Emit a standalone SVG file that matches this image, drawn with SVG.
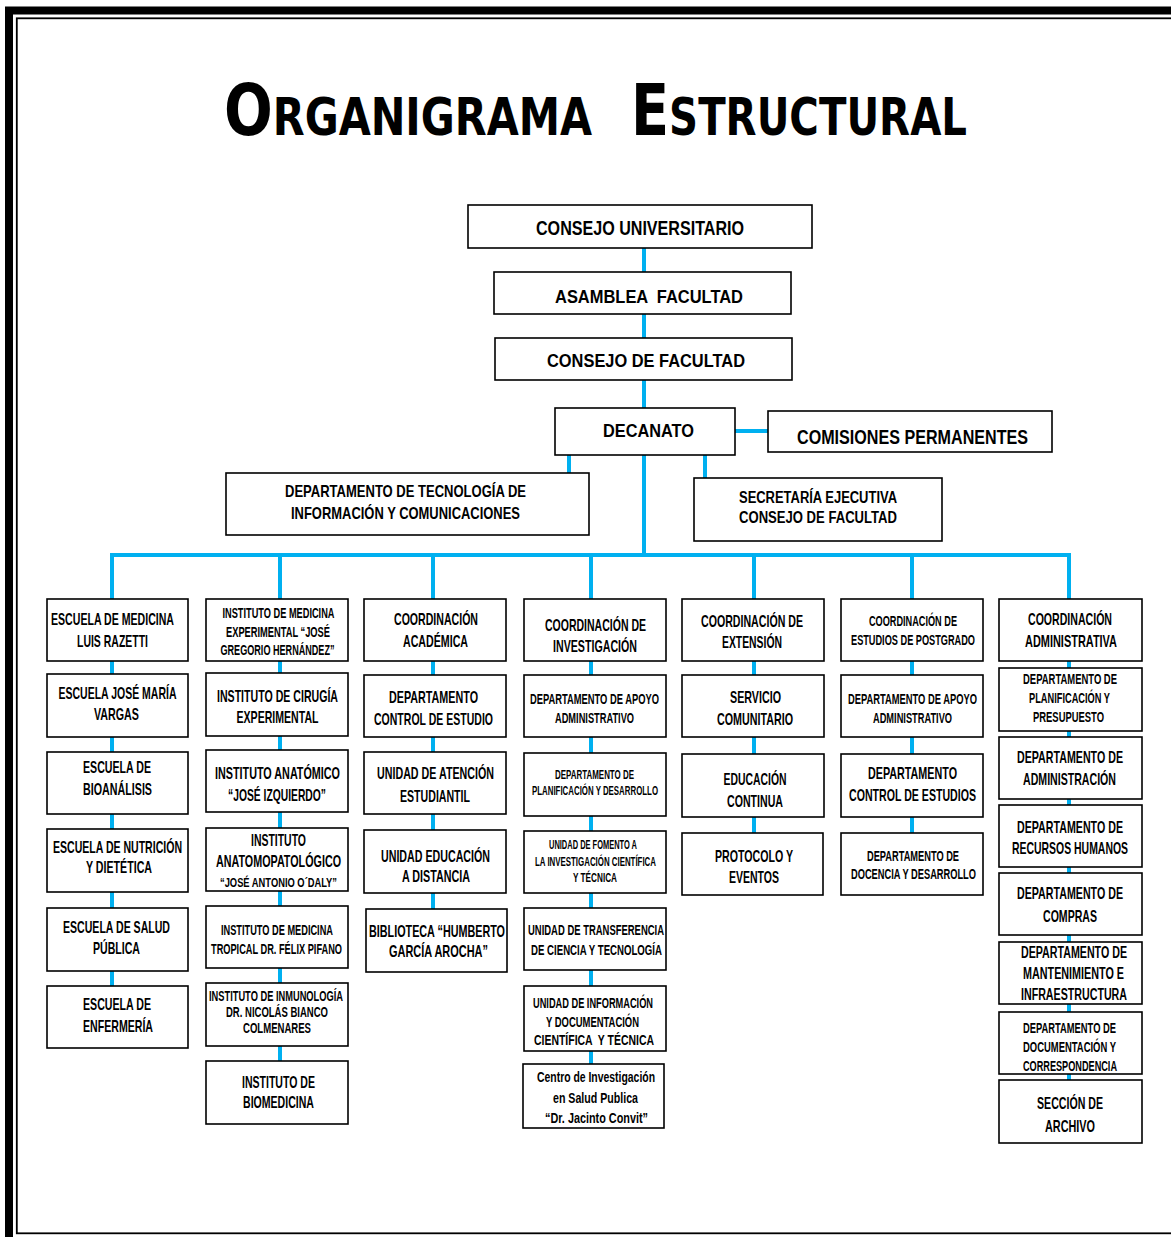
<svg xmlns="http://www.w3.org/2000/svg" width="1171" height="1237" viewBox="0 0 1171 1237">
<style>
.bx{fill:#fff;stroke:#000;stroke-width:1.6}
.t{font-family:"Liberation Sans Narrow","Liberation Sans",Arial,sans-serif;font-weight:bold;fill:#000;text-anchor:middle}
.ttl{font-family:"DejaVu Sans","Liberation Sans",sans-serif;font-weight:bold;fill:#000}
.s20{font-size:20px}.s19{font-size:19px}.s18{font-size:18px}.s17{font-size:17px}.s16{font-size:16px}.s15{font-size:15px}.s14{font-size:14px}.s13{font-size:13px}.s12{font-size:12px}
.c{fill:none;stroke:#00B0F0;stroke-width:4;stroke-linecap:butt}
</style>
<rect width="1171" height="1237" fill="#fff"/>
<g id="frame" fill="none" stroke="#000">
<rect x="9" y="10.5" width="1200" height="1232" stroke-width="8"/>
<rect x="16.8" y="18.3" width="1190" height="1215" stroke-width="1.8"/>
</g>
<g id="title">
<text class="ttl" x="224" y="135" textLength="368" lengthAdjust="spacingAndGlyphs"><tspan font-size="72">O</tspan><tspan font-size="52">RGANIGRAMA</tspan></text>
<text class="ttl" x="631" y="135" textLength="336" lengthAdjust="spacingAndGlyphs"><tspan font-size="72">E</tspan><tspan font-size="52">STRUCTURAL</tspan></text>
</g>
<g id="connectors">
<path class="c" d="M644,248 V555"/>
<path class="c" d="M569,455 V473"/>
<path class="c" d="M705,455 V478"/>
<path class="c" d="M735,431 H768" stroke-width="6"/>
<path class="c" d="M112,1000 V555 H1069 V1100" stroke-width="4.5"/>
<path class="c" d="M280,555 V1061"/>
<path class="c" d="M433,555 V909"/>
<path class="c" d="M591,555 V1064"/>
<path class="c" d="M754,555 V833"/>
<path class="c" d="M912,555 V833"/>
</g>
<g id="n-consejo-universitario"><rect class="bx" x="468" y="205" width="344" height="43"/><text class="t s20" x="640" y="235" textLength="208" lengthAdjust="spacingAndGlyphs">CONSEJO UNIVERSITARIO</text></g>
<g id="n-asamblea"><rect class="bx" x="494" y="272" width="297" height="42"/><text class="t s19" x="649" y="303" textLength="188" lengthAdjust="spacingAndGlyphs" xml:space="preserve">ASAMBLEA  FACULTAD</text></g>
<g id="n-consejo-facultad"><rect class="bx" x="495" y="338" width="297" height="42"/><text class="t s19" x="646" y="367" textLength="198" lengthAdjust="spacingAndGlyphs">CONSEJO DE FACULTAD</text></g>
<g id="n-decanato"><rect class="bx" x="555" y="408" width="180" height="47"/><text class="t s19" x="648.5" y="437" textLength="91" lengthAdjust="spacingAndGlyphs">DECANATO</text></g>
<g id="n-comisiones"><rect class="bx" x="768" y="411" width="284" height="41"/><text class="t s20" x="912.5" y="444" textLength="231" lengthAdjust="spacingAndGlyphs">COMISIONES PERMANENTES</text></g>
<g id="n-dti"><rect class="bx" x="226" y="473" width="363" height="62"/><text class="t s17" x="405.5" y="497" textLength="241" lengthAdjust="spacingAndGlyphs">DEPARTAMENTO DE TECNOLOGÍA DE</text><text class="t s17" x="405.5" y="519" textLength="229" lengthAdjust="spacingAndGlyphs">INFORMACIÓN Y COMUNICACIONES</text></g>
<g id="n-secretaria"><rect class="bx" x="694" y="478" width="248" height="63"/><text class="t s16" x="818" y="503" textLength="158" lengthAdjust="spacingAndGlyphs">SECRETARÍA EJECUTIVA</text><text class="t s16" x="818" y="523" textLength="158" lengthAdjust="spacingAndGlyphs">CONSEJO DE FACULTAD</text></g>

<g id="c1-medicina"><rect class="bx" x="47" y="599" width="141" height="62"/><text class="t s17" x="112.5" y="625" textLength="123" lengthAdjust="spacingAndGlyphs">ESCUELA DE MEDICINA</text><text class="t s17" x="112.5" y="647" textLength="71" lengthAdjust="spacingAndGlyphs">LUIS RAZETTI</text></g>
<g id="c1-vargas"><rect class="bx" x="47" y="674" width="141" height="63"/><text class="t s17" x="117.5" y="699" textLength="118" lengthAdjust="spacingAndGlyphs">ESCUELA JOSÉ MARÍA</text><text class="t s17" x="116.5" y="720" textLength="45" lengthAdjust="spacingAndGlyphs">VARGAS</text></g>
<g id="c1-bioanalisis"><rect class="bx" x="47" y="752" width="141" height="62"/><text class="t s17" x="117" y="773" textLength="68" lengthAdjust="spacingAndGlyphs">ESCUELA DE</text><text class="t s17" x="117.5" y="795" textLength="69" lengthAdjust="spacingAndGlyphs">BIOANÁLISIS</text></g>
<g id="c1-nutricion"><rect class="bx" x="47" y="829" width="141" height="63"/><text class="t s17" x="117.5" y="853" textLength="129" lengthAdjust="spacingAndGlyphs">ESCUELA DE NUTRICIÓN</text><text class="t s17" x="119" y="873" textLength="66" lengthAdjust="spacingAndGlyphs">Y DIETÉTICA</text></g>
<g id="c1-salud"><rect class="bx" x="47" y="908" width="141" height="63"/><text class="t s17" x="116.5" y="933" textLength="107" lengthAdjust="spacingAndGlyphs">ESCUELA DE SALUD</text><text class="t s17" x="116.5" y="954" textLength="47" lengthAdjust="spacingAndGlyphs">PÚBLICA</text></g>
<g id="c1-enfermeria"><rect class="bx" x="47" y="986" width="141" height="62"/><text class="t s17" x="117" y="1010" textLength="68" lengthAdjust="spacingAndGlyphs">ESCUELA DE</text><text class="t s17" x="118" y="1032" textLength="70" lengthAdjust="spacingAndGlyphs">ENFERMERÍA</text></g>

<g id="c2-experimental"><rect class="bx" x="206" y="599" width="142" height="62"/><text class="t s15" x="278.5" y="618" textLength="112" lengthAdjust="spacingAndGlyphs">INSTITUTO DE MEDICINA</text><text class="t s15" x="278" y="637" textLength="104" lengthAdjust="spacingAndGlyphs">EXPERIMENTAL “JOSÉ</text><text class="t s15" x="277.5" y="655" textLength="114" lengthAdjust="spacingAndGlyphs">GREGORIO HERNÁNDEZ”</text></g>
<g id="c2-cirugia"><rect class="bx" x="206" y="673" width="142" height="63"/><text class="t s17" x="277.5" y="702" textLength="121" lengthAdjust="spacingAndGlyphs">INSTITUTO DE CIRUGÍA</text><text class="t s17" x="277.5" y="723" textLength="82" lengthAdjust="spacingAndGlyphs">EXPERIMENTAL</text></g>
<g id="c2-anatomico"><rect class="bx" x="206" y="750" width="142" height="62"/><text class="t s17" x="277.5" y="779" textLength="125" lengthAdjust="spacingAndGlyphs">INSTITUTO ANATÓMICO</text><text class="t s17" x="277" y="801" textLength="98" lengthAdjust="spacingAndGlyphs">“JOSÉ IZQUIERDO”</text></g>
<g id="c2-anatomopatologico"><rect class="bx" x="206" y="828" width="142" height="63"/><text class="t s17" x="278.5" y="846" textLength="55" lengthAdjust="spacingAndGlyphs">INSTITUTO</text><text class="t s17" x="278.5" y="867" textLength="125" lengthAdjust="spacingAndGlyphs">ANATOMOPATOLÓGICO</text><text class="t s13" x="278.5" y="887" textLength="117" lengthAdjust="spacingAndGlyphs">“JOSÉ ANTONIO O´DALY”</text></g>
<g id="c2-tropical"><rect class="bx" x="206" y="906" width="142" height="62"/><text class="t s15" x="277" y="935" textLength="112" lengthAdjust="spacingAndGlyphs">INSTITUTO DE MEDICINA</text><text class="t s15" x="276.5" y="954" textLength="131" lengthAdjust="spacingAndGlyphs">TROPICAL DR. FÉLIX PIFANO</text></g>
<g id="c2-inmunologia"><rect class="bx" x="206" y="983" width="142" height="63"/><text class="t s14" x="276" y="1001" textLength="134" lengthAdjust="spacingAndGlyphs">INSTITUTO DE INMUNOLOGÍA</text><text class="t s14" x="277" y="1017" textLength="102" lengthAdjust="spacingAndGlyphs">DR. NICOLÁS BIANCO</text><text class="t s14" x="277" y="1033" textLength="68" lengthAdjust="spacingAndGlyphs">COLMENARES</text></g>
<g id="c2-biomedicina"><rect class="bx" x="206" y="1061" width="142" height="63"/><text class="t s17" x="278.5" y="1088" textLength="73" lengthAdjust="spacingAndGlyphs">INSTITUTO DE</text><text class="t s17" x="278.5" y="1108" textLength="71" lengthAdjust="spacingAndGlyphs">BIOMEDICINA</text></g>

<g id="c3-academica"><rect class="bx" x="364" y="599" width="142" height="62"/><text class="t s17" x="436" y="625" textLength="84" lengthAdjust="spacingAndGlyphs">COORDINACIÓN</text><text class="t s17" x="435.5" y="647" textLength="65" lengthAdjust="spacingAndGlyphs">ACADÉMICA</text></g>
<g id="c3-control"><rect class="bx" x="364" y="675" width="142" height="62"/><text class="t s17" x="433.5" y="703" textLength="89" lengthAdjust="spacingAndGlyphs">DEPARTAMENTO</text><text class="t s17" x="433.5" y="725" textLength="119" lengthAdjust="spacingAndGlyphs">CONTROL DE ESTUDIO</text></g>
<g id="c3-atencion"><rect class="bx" x="364" y="752" width="142" height="62"/><text class="t s17" x="435.5" y="779" textLength="117" lengthAdjust="spacingAndGlyphs">UNIDAD DE ATENCIÓN</text><text class="t s17" x="435" y="802" textLength="70" lengthAdjust="spacingAndGlyphs">ESTUDIANTIL</text></g>
<g id="c3-distancia"><rect class="bx" x="364" y="830" width="142" height="63"/><text class="t s17" x="435.5" y="862" textLength="109" lengthAdjust="spacingAndGlyphs">UNIDAD EDUCACIÓN</text><text class="t s17" x="436" y="882" textLength="68" lengthAdjust="spacingAndGlyphs">A DISTANCIA</text></g>
<g id="c3-biblioteca"><rect class="bx" x="366" y="909" width="141" height="63"/><text class="t s17" x="437" y="937" textLength="136" lengthAdjust="spacingAndGlyphs">BIBLIOTECA “HUMBERTO</text><text class="t s17" x="438.5" y="957" textLength="99" lengthAdjust="spacingAndGlyphs">GARCÍA AROCHA”</text></g>

<g id="c4-investigacion"><rect class="bx" x="524" y="599" width="142" height="62"/><text class="t s17" x="595.5" y="631" textLength="101" lengthAdjust="spacingAndGlyphs">COORDINACIÓN DE</text><text class="t s17" x="595" y="652" textLength="84" lengthAdjust="spacingAndGlyphs">INVESTIGACIÓN</text></g>
<g id="c4-apoyo"><rect class="bx" x="524" y="675" width="142" height="62"/><text class="t s14" x="594.5" y="704" textLength="129" lengthAdjust="spacingAndGlyphs">DEPARTAMENTO DE APOYO</text><text class="t s14" x="594.5" y="723" textLength="79" lengthAdjust="spacingAndGlyphs">ADMINISTRATIVO</text></g>
<g id="c4-planificacion"><rect class="bx" x="524" y="753" width="142" height="63"/><text class="t s12" x="594.5" y="779" textLength="79" lengthAdjust="spacingAndGlyphs">DEPARTAMENTO DE</text><text class="t s12" x="595" y="795" textLength="126" lengthAdjust="spacingAndGlyphs">PLANIFICACIÓN Y DESARROLLO</text></g>
<g id="c4-fomento"><rect class="bx" x="524" y="831" width="142" height="62"/><text class="t s12" x="593" y="849" textLength="88" lengthAdjust="spacingAndGlyphs">UNIDAD DE FOMENTO A</text><text class="t s12" x="595.5" y="866" textLength="121" lengthAdjust="spacingAndGlyphs">LA INVESTIGACIÓN CIENTÍFICA</text><text class="t s12" x="595" y="882" textLength="44" lengthAdjust="spacingAndGlyphs">Y TÉCNICA</text></g>
<g id="c4-transferencia"><rect class="bx" x="524" y="908" width="142" height="62"/><text class="t s15" x="596" y="935" textLength="136" lengthAdjust="spacingAndGlyphs">UNIDAD DE TRANSFERENCIA</text><text class="t s15" x="596.5" y="955" textLength="131" lengthAdjust="spacingAndGlyphs">DE CIENCIA Y TECNOLOGÍA</text></g>
<g id="c4-informacion"><rect class="bx" x="524" y="986" width="142" height="65"/><text class="t s14" x="593" y="1008" textLength="120" lengthAdjust="spacingAndGlyphs">UNIDAD DE INFORMACIÓN</text><text class="t s14" x="592.5" y="1027" textLength="93" lengthAdjust="spacingAndGlyphs">Y DOCUMENTACIÓN</text><text class="t s14" x="594" y="1045" textLength="120" lengthAdjust="spacingAndGlyphs" xml:space="preserve">CIENTÍFICA  Y TÉCNICA</text></g>
<g id="c4-centro"><rect class="bx" x="523" y="1064" width="141" height="64"/><text class="t s15" x="596" y="1082" textLength="118" lengthAdjust="spacingAndGlyphs">Centro de Investigación</text><text class="t s15" x="595.5" y="1103" textLength="85" lengthAdjust="spacingAndGlyphs">en Salud Publica</text><text class="t s15" x="596.5" y="1123" textLength="103" lengthAdjust="spacingAndGlyphs">“Dr. Jacinto Convit”</text></g>

<g id="c5-extension"><rect class="bx" x="682" y="599" width="142" height="62"/><text class="t s17" x="752" y="627" textLength="102" lengthAdjust="spacingAndGlyphs">COORDINACIÓN DE</text><text class="t s17" x="752" y="648" textLength="60" lengthAdjust="spacingAndGlyphs">EXTENSIÓN</text></g>
<g id="c5-servicio"><rect class="bx" x="682" y="675" width="142" height="62"/><text class="t s17" x="755.5" y="703" textLength="51" lengthAdjust="spacingAndGlyphs">SERVICIO</text><text class="t s17" x="755" y="725" textLength="76" lengthAdjust="spacingAndGlyphs">COMUNITARIO</text></g>
<g id="c5-educacion"><rect class="bx" x="682" y="754" width="142" height="63"/><text class="t s17" x="755" y="785" textLength="63" lengthAdjust="spacingAndGlyphs">EDUCACIÓN</text><text class="t s17" x="755" y="807" textLength="56" lengthAdjust="spacingAndGlyphs">CONTINUA</text></g>
<g id="c5-protocolo"><rect class="bx" x="682" y="833" width="141" height="62"/><text class="t s17" x="754" y="862" textLength="78" lengthAdjust="spacingAndGlyphs">PROTOCOLO Y</text><text class="t s17" x="754" y="883" textLength="50" lengthAdjust="spacingAndGlyphs">EVENTOS</text></g>

<g id="c6-postgrado"><rect class="bx" x="841" y="599" width="142" height="62"/><text class="t s14" x="913" y="626" textLength="88" lengthAdjust="spacingAndGlyphs">COORDINACIÓN DE</text><text class="t s14" x="913" y="645" textLength="124" lengthAdjust="spacingAndGlyphs">ESTUDIOS DE POSTGRADO</text></g>
<g id="c6-apoyo"><rect class="bx" x="841" y="675" width="142" height="62"/><text class="t s14" x="912.5" y="704" textLength="129" lengthAdjust="spacingAndGlyphs">DEPARTAMENTO DE APOYO</text><text class="t s14" x="912.5" y="723" textLength="79" lengthAdjust="spacingAndGlyphs">ADMINISTRATIVO</text></g>
<g id="c6-control"><rect class="bx" x="841" y="754" width="142" height="63"/><text class="t s17" x="912.5" y="779" textLength="89" lengthAdjust="spacingAndGlyphs">DEPARTAMENTO</text><text class="t s17" x="912.5" y="801" textLength="127" lengthAdjust="spacingAndGlyphs">CONTROL DE ESTUDIOS</text></g>
<g id="c6-docencia"><rect class="bx" x="841" y="833" width="142" height="62"/><text class="t s14" x="913" y="861" textLength="92" lengthAdjust="spacingAndGlyphs">DEPARTAMENTO DE</text><text class="t s14" x="913.5" y="879" textLength="125" lengthAdjust="spacingAndGlyphs">DOCENCIA Y DESARROLLO</text></g>

<g id="c7-administrativa"><rect class="bx" x="999" y="599" width="143" height="62"/><text class="t s17" x="1070" y="625" textLength="84" lengthAdjust="spacingAndGlyphs">COORDINACIÓN</text><text class="t s17" x="1071" y="647" textLength="92" lengthAdjust="spacingAndGlyphs">ADMINISTRATIVA</text></g>
<g id="c7-presupuesto"><rect class="bx" x="999" y="668" width="143" height="63"/><text class="t s14" x="1070" y="684" textLength="94" lengthAdjust="spacingAndGlyphs">DEPARTAMENTO DE</text><text class="t s14" x="1069.5" y="703" textLength="81" lengthAdjust="spacingAndGlyphs">PLANIFICACIÓN Y</text><text class="t s14" x="1068.5" y="722" textLength="71" lengthAdjust="spacingAndGlyphs">PRESUPUESTO</text></g>
<g id="c7-administracion"><rect class="bx" x="999" y="737" width="143" height="62"/><text class="t s17" x="1070" y="763" textLength="106" lengthAdjust="spacingAndGlyphs">DEPARTAMENTO DE</text><text class="t s17" x="1069.5" y="785" textLength="93" lengthAdjust="spacingAndGlyphs">ADMINISTRACIÓN</text></g>
<g id="c7-rrhh"><rect class="bx" x="999" y="805" width="143" height="62"/><text class="t s17" x="1070" y="833" textLength="106" lengthAdjust="spacingAndGlyphs">DEPARTAMENTO DE</text><text class="t s17" x="1070" y="854" textLength="116" lengthAdjust="spacingAndGlyphs">RECURSOS HUMANOS</text></g>
<g id="c7-compras"><rect class="bx" x="999" y="873" width="143" height="62"/><text class="t s17" x="1070" y="899" textLength="106" lengthAdjust="spacingAndGlyphs">DEPARTAMENTO DE</text><text class="t s17" x="1070" y="922" textLength="54" lengthAdjust="spacingAndGlyphs">COMPRAS</text></g>
<g id="c7-mantenimiento"><rect class="bx" x="999" y="942" width="143" height="62"/><text class="t s16" x="1074" y="958" textLength="106" lengthAdjust="spacingAndGlyphs">DEPARTAMENTO DE</text><text class="t s16" x="1073.5" y="979" textLength="101" lengthAdjust="spacingAndGlyphs">MANTENIMIENTO E</text><text class="t s16" x="1074" y="1000" textLength="106" lengthAdjust="spacingAndGlyphs">INFRAESTRUCTURA</text></g>
<g id="c7-documentacion"><rect class="bx" x="999" y="1012" width="143" height="62"/><text class="t s14" x="1069.5" y="1033" textLength="93" lengthAdjust="spacingAndGlyphs">DEPARTAMENTO DE</text><text class="t s14" x="1069.5" y="1052" textLength="93" lengthAdjust="spacingAndGlyphs">DOCUMENTACIÓN Y</text><text class="t s14" x="1070" y="1071" textLength="94" lengthAdjust="spacingAndGlyphs">CORRESPONDENCIA</text></g>
<g id="c7-archivo"><rect class="bx" x="999" y="1080" width="143" height="63"/><text class="t s17" x="1070" y="1109" textLength="66" lengthAdjust="spacingAndGlyphs">SECCIÓN DE</text><text class="t s17" x="1070" y="1132" textLength="50" lengthAdjust="spacingAndGlyphs">ARCHIVO</text></g>
</svg>
